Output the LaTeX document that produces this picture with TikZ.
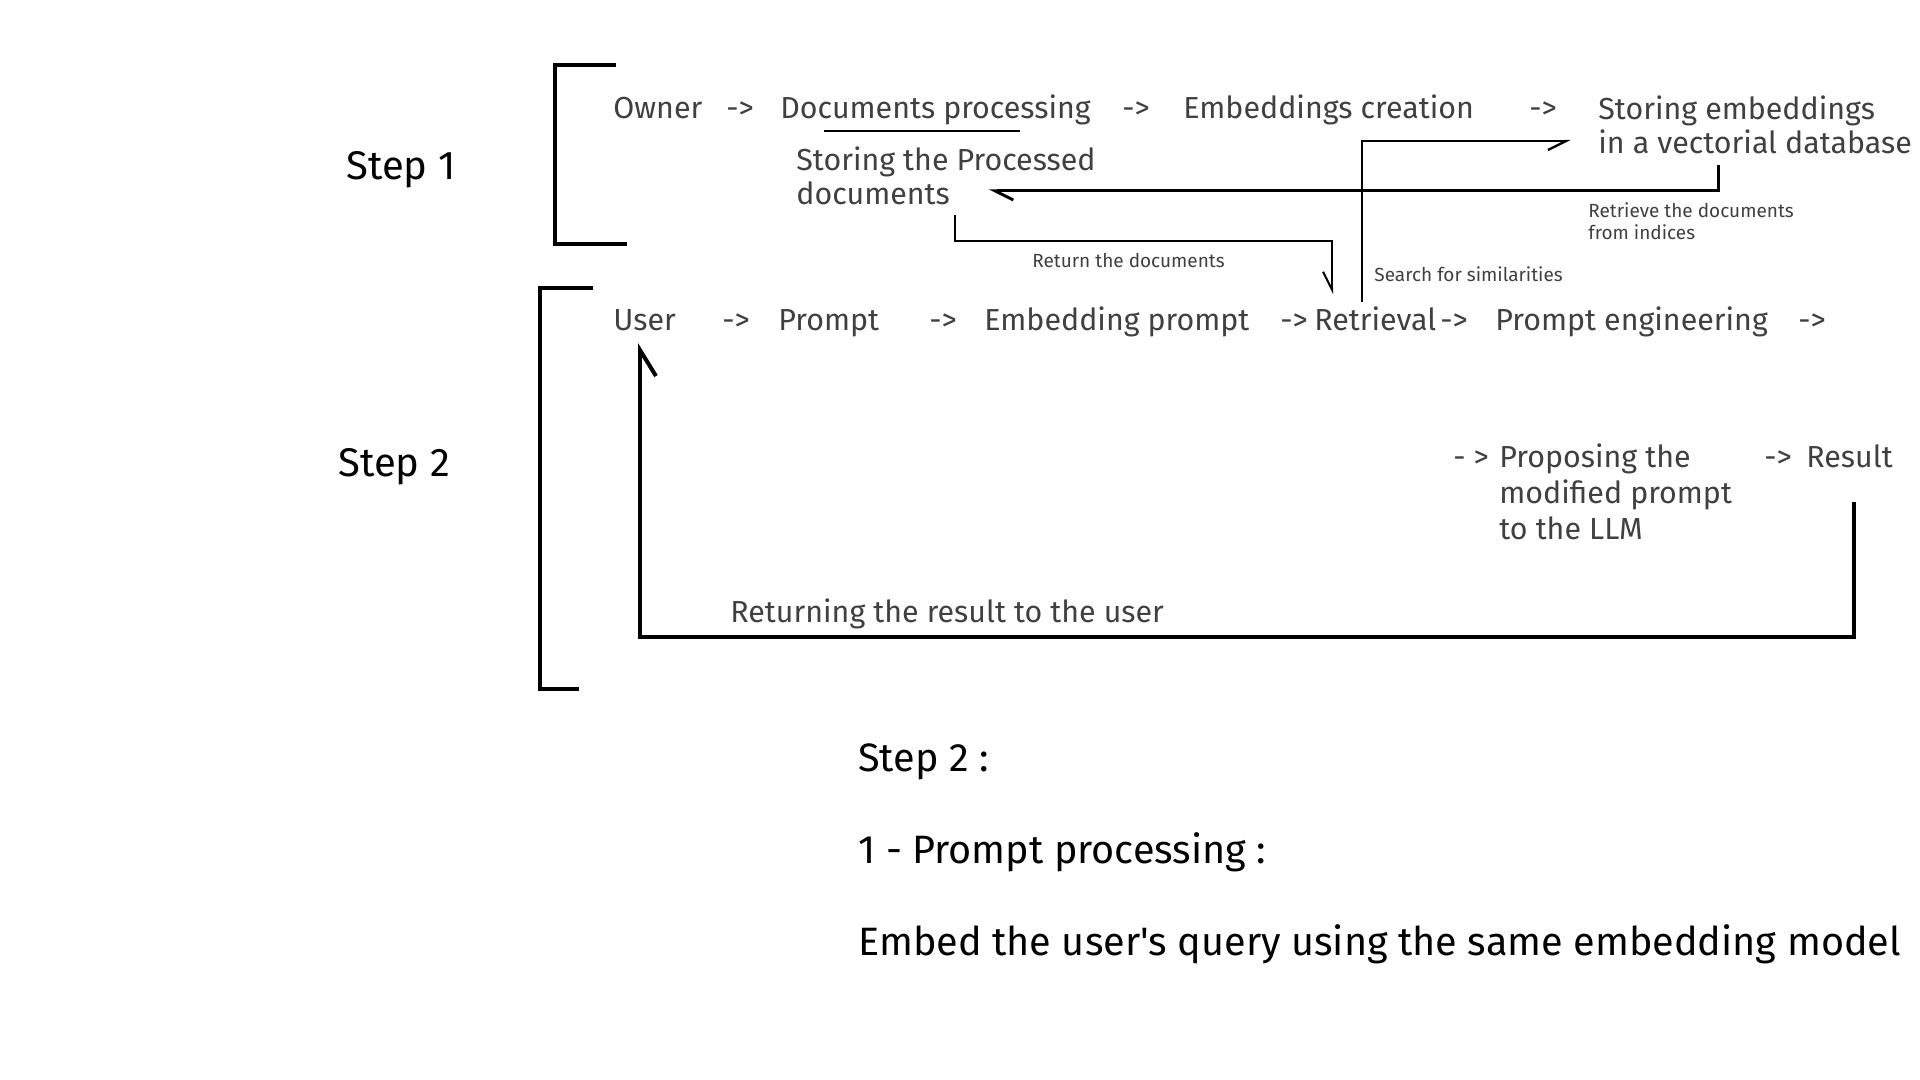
\documentclass[tikz,border=0pt]{standalone}
\usepackage{fontspec}
\setmainfont{Fira Sans}[Ligatures=TeXOff]
\usetikzlibrary{positioning,arrows.meta}
\definecolor{inkgray}{HTML}{404040}

\begin{document}
\begin{tikzpicture}[
  x=0.5pt, y=-0.5pt,
  flow text/.style={
    inner sep=0pt,
    anchor=base west,
    text=inkgray,
    align=left,
    font=\fontsize{15.2}{17}\selectfont,
  },
  note text/.style={
    flow text,
    font=\fontsize{9.5}{11}\selectfont,
  },
  step label/.style={
    inner sep=0pt,
    anchor=base west,
    font=\fontsize{20}{24}\selectfont,
  },
  body text/.style={
    step label,
    font=\fontsize{19.8}{24}\selectfont,
  },
  bracket line/.style={line width=2pt, line join=miter},
  link line/.style={line width=#1, line join=miter},
  link line/.default=1.2pt,
  barb tip/.style={-{Straight Barb[harpoon,length=9pt,width=9pt,#1]}},
  barb tip/.default={},
  ]
  \useasboundingbox (0,0) rectangle (1920,1080);

  % step 1 (multi-line nodes sit on their last baseline)
  \node[step label] (step-one) at (346,180) {Step 1};
  \draw[bracket line] (616,65) -- (555,65) -- (555,244) -- (627,244);
  \node[flow text] (owner) at (613,119) {Owner};
  \node[flow text] (owner-to-docproc) at (726,119) {->};
  \node[flow text] (docproc) at (780,119) {Documents processing};
  \node[flow text] (docproc-to-embcreate) at (1122,119) {->};
  \node[flow text] (embcreate) at (1183,119) {Embeddings creation};
  \node[flow text] (embcreate-to-vecdb) at (1529,119) {->};
  \node[flow text] (vecdb) at (1598,154) {Storing embeddings\\in a vectorial database};
  \node[flow text] (storedocs) at (796,205) {Storing the Processed\\documents};
  \draw[link line] (824,131) -- (1020,131);

  % step 2
  \node[step label] (step-two) at (338,476) {Step 2};
  \draw[bracket line] (593,288) -- (540,288) -- (540,689) -- (579,689);
  \node[flow text] (user) at (613,330) {User};
  \node[flow text] (user-to-prompt) at (722,330) {->};
  \node[flow text] (prompt) at (778,330) {Prompt};
  \node[flow text] (prompt-to-embprompt) at (929,330) {->};
  \node[flow text] (embprompt) at (984,330) {Embedding prompt};
  \node[flow text] (embprompt-to-retrieval) at (1280,330) {->};
  \node[flow text] (retrieval) at (1314,330) {Retrieval};
  \node[flow text] (retrieval-to-engineering) at (1440,330) {->};
  \node[flow text] (engineering) at (1495,330) {Prompt engineering};
  \node[flow text] (engineering-to-llm) at (1798,330) {->};
  \node[flow text] (to-llm) at (1453,467) {- >};
  \node[flow text, font=\fontsize{15.2}{18}\selectfont] (llm) at (1499,539)
    {Proposing the\\modified prompt\\to the LLM};
  \node[flow text] (llm-to-result) at (1764,467) {->};
  \node[flow text] (result) at (1806,467) {Result};

  % connectors
  \coordinate (vecdb-out) at (1718,165);
  \coordinate (storedocs-in) at (989,191);
  \coordinate (storedocs-out) at (955,215);
  \coordinate (retrieval-in) at (1332,294);
  \coordinate (retrieval-out) at (1362,302);
  \coordinate (search-bend) at (1362,141);
  \coordinate (vecdb-in) at (1571,141);
  \coordinate (result-out) at (1854,502);
  \coordinate (loop-corner) at (1854,637);
  \coordinate (user-in) at (640,343);

  \draw[link line=1.5pt, barb tip] (vecdb-out) |- (storedocs-in);
  \draw[link line=1pt, barb tip=swap] (storedocs-out) |- (retrieval-in |- 0,241) -- (retrieval-in);
  \draw[link line=1.2pt, barb tip=swap] (retrieval-out) -- (search-bend) -- (vecdb-in);
  \draw[link line=2pt, -{Straight Barb[harpoon,swap,length=13pt,width=16pt]}]
    (result-out) -- (loop-corner) -- (user-in |- loop-corner) -- (user-in);

  \node[note text] (retrieve-note) at (1588,240) {Retrieve the documents\\from indices};
  \node[note text] (return-note) at (1032,268) {Return the documents};
  \node[note text] (search-note) at (1374,282) {Search for similarities};
  \node[flow text] (loop-note) at (730,622) {Returning the result to the user};

  % explanation
  \node[body text] (expl-title) at (858,771) {Step 2 :};
  \node[body text] (expl-item) at (858,863) {1 - Prompt processing :};
  \node[body text] (expl-line) at (858,955) {Embed the user's query using the same embedding model};
\end{tikzpicture}
\end{document}
